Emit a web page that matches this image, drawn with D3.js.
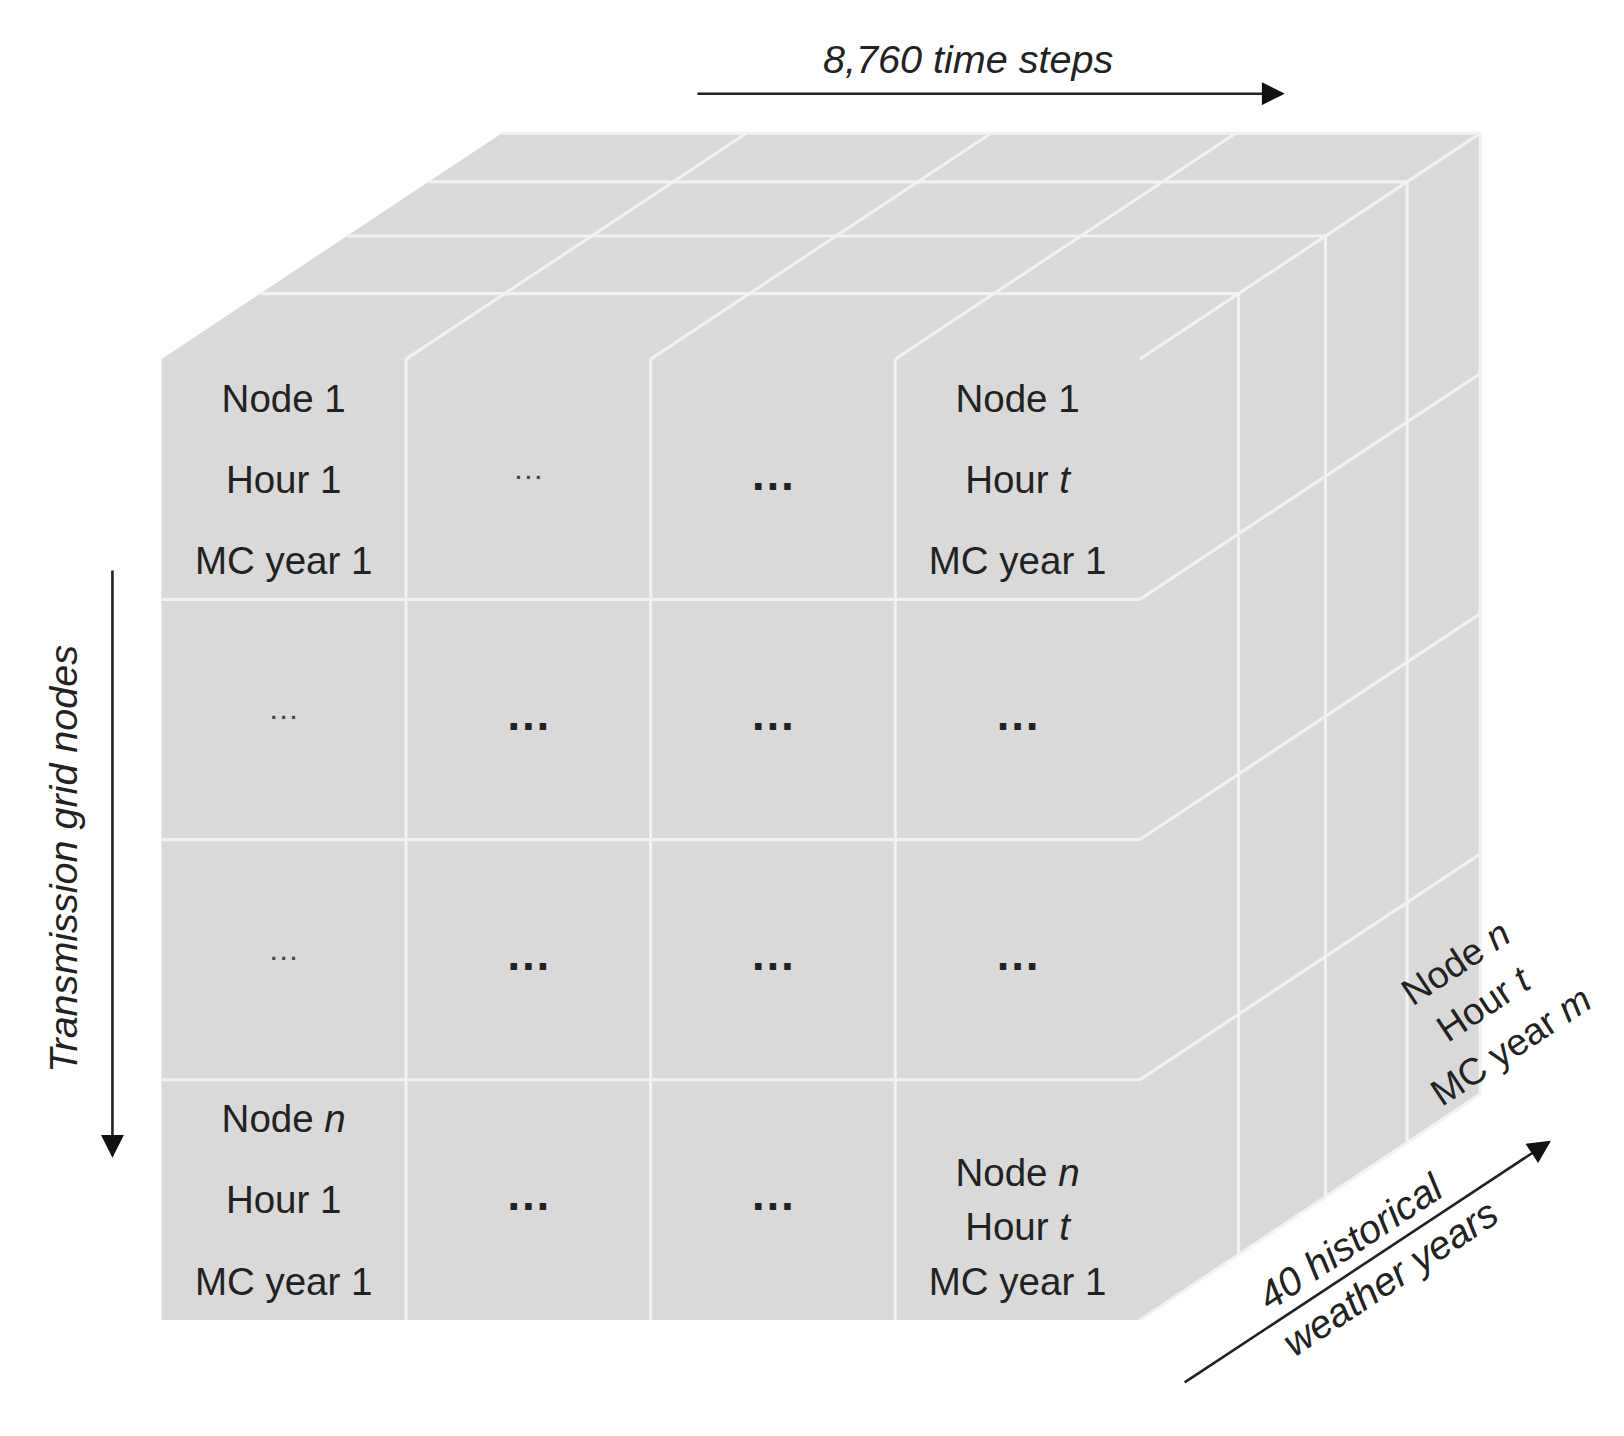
<!DOCTYPE html>
<html><head><meta charset="utf-8">
<script src="https://cdn.jsdelivr.net/npm/d3@7"></script>
<style>body{margin:0;background:#fff}</style>
</head><body><div id="canvas"></div>
<script>
"use strict"

/* data */
let depthFractions = [0, 0.29, 0.545, 0.785, 1];
/* cell labels: [row, col, lines, style] ; "small" = thin dots, "big" = bold dots */
let cellLabels = [
  [0, 0, [["Node ", "1"], ["Hour ", "1"], ["MC year ", "1"]], "text"],
  [0, 1, [["…"]], "small"],
  [0, 2, [["…"]], "big"],
  [0, 3, [["Node ", "1"], ["Hour ", "t", true], ["MC year ", "1"]], "text"],
  [1, 0, [["…"]], "small"], [1, 1, [["…"]], "big"], [1, 2, [["…"]], "big"], [1, 3, [["…"]], "big"],
  [2, 0, [["…"]], "small"], [2, 1, [["…"]], "big"], [2, 2, [["…"]], "big"], [2, 3, [["…"]], "big"],
  [3, 0, [["Node ", "n", true], ["Hour ", "1"], ["MC year ", "1"]], "text"],
  [3, 1, [["…"]], "big"], [3, 2, [["…"]], "big"],
  [3, 3, [["Node ", "n", true], ["Hour ", "t", true], ["MC year ", "1"]], "text2"]
];
let sideLabel = [["Node ", "n"], ["Hour ", "t"], ["MC year ", "m"]];

let svg = d3.select("#canvas").append("svg")
    .attr("width", 1624).attr("height", 1436)
    .style("font-family", "Liberation Sans, Arial, sans-serif");
let drawing = svg.append("g").attr("transform", "scale(1.041)");

/* scales */
let x = d3.scaleLinear().domain([0, 4]).range([155, 1095]);
let y = d3.scaleLinear().domain([0, 4]).range([345, 1268]);
let dx = d3.scaleLinear().domain([0, 1]).range([0, 327]);
let dy = d3.scaleLinear().domain([0, 1]).range([0, -217]);

let fill = "#d9d9d9", grid = "#f2f2f2";
let pts = a => a.map(p => p.join(",")).join(" ");

/* faces */
drawing.append("polygon").attr("fill", fill)
    .attr("points", pts([[x(0), y(0)], [x(4), y(0)], [x(4) + dx(1), y(0) + dy(1)], [x(0) + dx(1), y(0) + dy(1)]]));
drawing.append("polygon").attr("fill", fill)
    .attr("points", pts([[x(4), y(0)], [x(4), y(4)], [x(4) + dx(1), y(4) + dy(1)], [x(4) + dx(1), y(0) + dy(1)]]));
drawing.append("rect").attr("fill", fill)
    .attr("x", x(0)).attr("y", y(0)).attr("width", x(4) - x(0)).attr("height", y(4) - y(0));

let lines = drawing.append("g").attr("stroke", grid).attr("stroke-width", 3);
/* front grid */
[1, 2, 3].forEach(i => {
  lines.append("line").attr("x1", x(i)).attr("x2", x(i)).attr("y1", y(0)).attr("y2", y(4));
  lines.append("line").attr("x1", x(0)).attr("x2", x(4)).attr("y1", y(i)).attr("y2", y(i));
});
[1, 2, 3, 4].forEach(i => {
  lines.append("line").attr("x1", x(i)).attr("y1", y(0))
      .attr("x2", x(i) + dx(1)).attr("y2", y(0) + dy(1));
  lines.append("line").attr("x1", x(4)).attr("y1", y(i))
      .attr("x2", x(4) + dx(1)).attr("y2", y(i) + dy(1));
});
depthFractions.slice(1).forEach(f => {
  lines.append("line").attr("x1", x(0) + dx(f)).attr("y1", y(0) + dy(f))
      .attr("x2", x(4) + dx(f)).attr("y2", y(0) + dy(f));
  lines.append("line").attr("x1", x(4) + dx(f)).attr("y1", y(0) + dy(f))
      .attr("x2", x(4) + dx(f)).attr("y2", y(4) + dy(f));
});

/* cell labels */
cellLabels.forEach(([r, c, ls, style]) => {
  let cx = (x(c) + x(c + 1)) / 2, cy = (y(r) + y(r + 1)) / 2;
  if (style === "small" || style === "big") {
    drawing.append("text").attr("x", cx).attr("y", cy + (style === "big" ? 10 : 0))
      .attr("text-anchor", "middle").attr("fill", style === "big" ? "#222" : "#444")
      .attr("font-size", style === "big" ? 44 : 30)
      .attr("font-weight", style === "big" ? "bold" : "normal").text(ls[0][0]);
    return;
  }
  let gap = style === "text2" ? 52 : 78, off = style === "text2" ? 26 : 0;
  ls.forEach((l, k) => {
    let t = drawing.append("text").attr("x", cx).attr("y", cy + off + (k - 1) * gap + 13)
      .attr("text-anchor", "middle").attr("font-size", 37).attr("fill", "#222");
    t.append("tspan").text(l[0]);
    t.append("tspan").attr("font-style", l[2] ? "italic" : "normal").text(l[1]);
  });
});

/* side label */
let ang = Math.atan2(217, 327) * 180 / Math.PI;
let sg = drawing.append("g").attr("transform", `translate(1425,965) rotate(${-ang})`);
sideLabel.forEach((l, k) => {
  let t = sg.append("text").attr("x", 0).attr("y", (k - 1) * 48 + 12).attr("text-anchor", "middle")
    .attr("font-size", 36).attr("fill", "#222");
  t.append("tspan").text(l[0]);
  t.append("tspan").attr("font-style", "italic").text(l[1]);
});

/* arrows */
drawing.append("defs").append("marker").attr("id", "ah").attr("viewBox", "0 0 10 10")
  .attr("refX", 9).attr("refY", 5)
  .attr("markerWidth", 26).attr("markerHeight", 22).attr("markerUnits", "userSpaceOnUse")
  .attr("orient", "auto")
  .append("path").attr("d", "M0,0 L10,5 L0,10 z").attr("fill", "#111");
let arrow = (x1, y1, x2, y2) => drawing.append("line").attr("x1", x1).attr("y1", y1)
  .attr("x2", x2).attr("y2", y2).attr("stroke", "#222").attr("stroke-width", 2.5)
  .attr("marker-end", "url(#ah)");
arrow(670, 90, 1232, 90);
arrow(108, 548, 108, 1110);
arrow(1138, 1328, 1488, 1097);

drawing.append("text").attr("x", 930).attr("y", 70).attr("text-anchor", "middle")
  .attr("font-size", 38).attr("font-style", "italic").attr("fill", "#222").text("8,760 time steps");
drawing.append("text").attr("transform", "translate(74,825) rotate(-90)").attr("text-anchor", "middle")
  .attr("font-size", 38).attr("font-style", "italic").attr("fill", "#222").text("Transmission grid nodes");
let bg = drawing.append("g").attr("transform", `translate(1315,1211) rotate(${-ang})`);
bg.append("text").attr("x", -5).attr("y", -12).attr("text-anchor", "middle").attr("font-size", 38)
  .attr("font-style", "italic").attr("fill", "#222").text("40 historical");
bg.append("text").attr("x", 8).attr("y", 38).attr("text-anchor", "middle").attr("font-size", 38)
  .attr("font-style", "italic").attr("fill", "#222").text("weather years");
</script></body></html>
